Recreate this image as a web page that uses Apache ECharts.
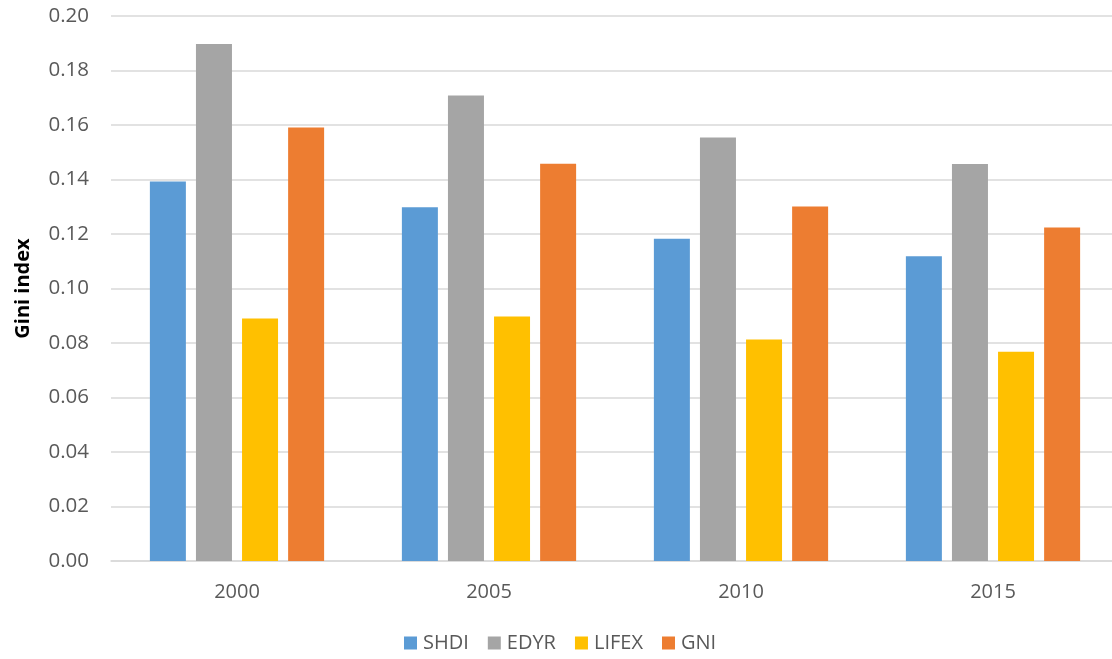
<!DOCTYPE html>
<html>
<head>
<meta charset="utf-8">
<script src="https://cdn.jsdelivr.net/npm/echarts@6/dist/echarts.min.js"></script>
<style>
  html, body { margin: 0; padding: 0; background: #fff; }
  #chart { width: 1112px; height: 659px; }
</style>
</head>
<body>
<div id="chart"></div>
<script>
// Gini index of sub-national development components, by year
const years = ['2000', '2005', '2010', '2015'];
const shdi  = [0.1393, 0.1298, 0.1183, 0.1118];
const edyr  = [0.1897, 0.1708, 0.1554, 0.1457];
const lifex = [0.0890, 0.0897, 0.0813, 0.0768];
const gni   = [0.1591, 0.1458, 0.1301, 0.1224];
const yTicks = { min: 0, max: 0.2, step: 0.02 };

const seriesDefs = [
  { name: 'SHDI',  data: shdi,  color: '#5B9BD5' },
  { name: 'EDYR',  data: edyr,  color: '#A5A5A5' },
  { name: 'LIFEX', data: lifex, color: '#FFC000' },
  { name: 'GNI',   data: gni,   color: '#ED7D31' }
];

const font = '"Open Sans", "Noto Sans", sans-serif';
const chart = echarts.init(document.getElementById('chart'), null, { renderer: 'canvas' });

chart.setOption({
  animation: false,
  textStyle: { fontFamily: font },
  grid: {
    left: 111, top: 16, width: 1008, height: 545,
    containLabel: false,
    outerBoundsMode: 'none'
  },
  legend: {
    bottom: 1,
    left: 399,
    itemWidth: 13,
    itemHeight: 13,
    itemGap: 19,
    icon: 'rect',
    textStyle: { color: '#595959', fontSize: 20, fontFamily: font, padding: [0, 0, 0, 1] },
    data: seriesDefs.map(s => s.name)
  },
  xAxis: {
    type: 'category',
    data: years,
    axisLine: { lineStyle: { color: '#D9D9D9', width: 1.5 } },
    axisTick: { show: false },
    axisLabel: { color: '#595959', fontSize: 20, margin: 21, fontFamily: font }
  },
  yAxis: {
    type: 'value',
    min: yTicks.min,
    max: yTicks.max,
    interval: yTicks.step,
    name: 'Gini index',
    nameLocation: 'middle',
    nameGap: 78,
    nameTextStyle: { color: '#000', fontSize: 20, fontWeight: 'bold', fontFamily: font },
    axisLine: { show: false },
    axisTick: { show: false },
    splitLine: { lineStyle: { color: '#D9D9D9', width: 1.5 } },
    axisLabel: {
      color: '#595959', fontSize: 20.5, margin: 22, fontFamily: font,
      formatter: v => v.toFixed(2)
    }
  },
  series: seriesDefs.map(s => ({
    name: s.name,
    type: 'bar',
    data: s.data,
    barWidth: 36,
    barGap: '28%',
    itemStyle: { color: s.color }
  }))
});
</script>
</body>
</html>
